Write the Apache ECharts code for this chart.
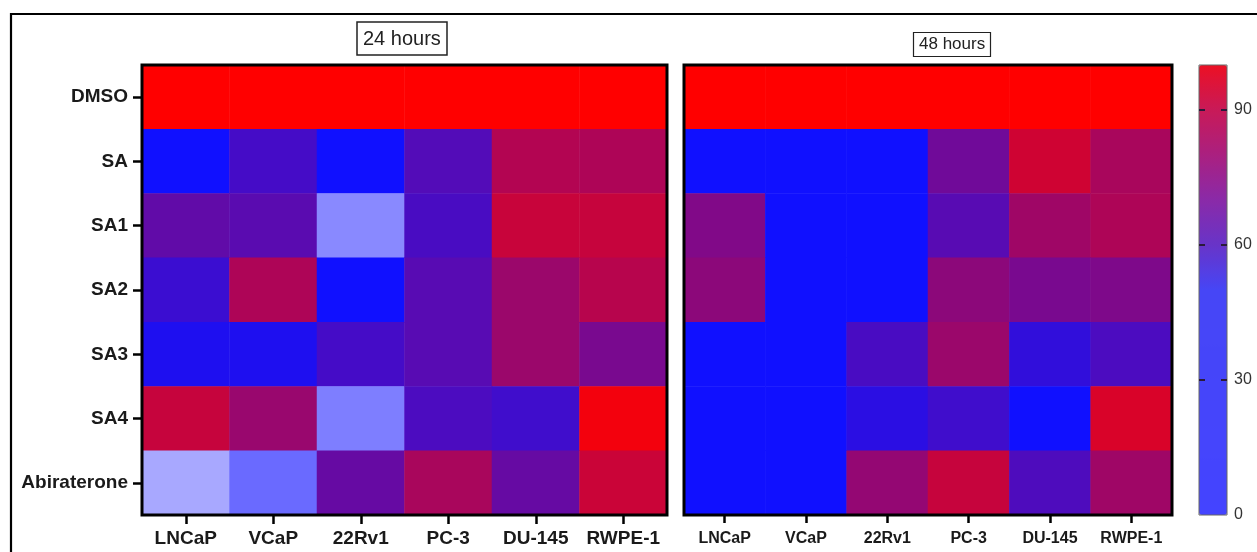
<!DOCTYPE html>
<html>
<head>
<meta charset="utf-8">
<script src="https://cdn.jsdelivr.net/npm/echarts@6/dist/echarts.min.js"></script>
<style>
html,body{margin:0;padding:0;background:#fff;}
#chart{width:1257px;height:552px;}
</style>
</head>
<body>
<div id="chart"></div>
<script>
// ---- data ----
const treatments = ['DMSO', 'SA', 'SA1', 'SA2', 'SA3', 'SA4', 'Abiraterone'];
const cellLines = ['LNCaP', 'VCaP', '22Rv1', 'PC-3', 'DU-145', 'RWPE-1'];
const values24h = [
  [100, 100, 100, 100, 100, 100],
  [42, 61, 40, 64, 84, 83],
  [67, 65.5, 17, 62, 88.5, 88],
  [59, 83, 42, 65, 79, 85],
  [53, 53, 61, 65, 79, 72],
  [88, 78.5, 19.5, 62.5, 60, 97.5],
  [10, 23, 68, 82, 68, 89]
];
const values48h = [
  [100, 100, 100, 100, 100, 100],
  [42, 42, 42, 70, 90, 82],
  [73.5, 42, 42, 65, 80, 83],
  [76, 42, 42, 76, 72, 73],
  [42, 42, 62, 79, 57, 62.5],
  [42, 42, 55.5, 60, 46, 92],
  [42, 42, 77.5, 88, 63, 80]
];
const panelTitles = ['24 hours', '48 hours'];
const colorbarTicks = [0, 30, 60, 90];
const colorbarInnerTicks = [30, 60, 90];

// ---- colour scales ----
function hex2rgb(h){return [parseInt(h.substr(1,2),16),parseInt(h.substr(3,2),16),parseInt(h.substr(5,2),16)];}
function rgb2hex(c){return '#'+c.map(v=>Math.round(v).toString(16).padStart(2,'0')).join('');}
function buildScale(stops){
  const out=[];
  for(let v=0; v<=100; v++){
    let i=0; while(i<stops.length-2 && v>stops[i+1][0]) i++;
    const a=stops[i], b=stops[i+1];
    const t=Math.max(0,Math.min(1,(v-a[0])/(b[0]-a[0])));
    const ca=hex2rgb(a[1]), cb=hex2rgb(b[1]);
    out.push(rgb2hex(ca.map((x,k)=>x+(cb[k]-x)*t)));
  }
  return out;
}
const cellColors = buildScale([[0,'#c8c8ff'],[10,'#a8a8ff'],[20,'#7c7cff'],[30,'#4040ff'],[38,'#1010ff'],[50,'#1010ff'],[100,'#ff0000']]);
const barColors = buildScale([[0,'#4444ff'],[50,'#4646f6'],[60,'#6834c8'],[70,'#8a2aa8'],[80,'#aa2080'],[90,'#c81a58'],[100,'#ec1024']]);

function toCells(m){
  const d=[];
  m.forEach((row,r)=>row.forEach((v,c)=>d.push([c,r,v])));
  return d;
}

const FONT='Liberation Sans';
const chart = echarts.init(document.getElementById('chart'), null, {renderer:'canvas'});

const gridDefs = [
  {left:142, top:65, width:525, height:450},
  {left:684, top:65, width:488, height:450},
  {left:1199, top:65, width:28, height:450}
];

chart.setOption({
  backgroundColor:'#ffffff',
  animation:false,
  title:[
    {text:panelTitles[0], left:357, top:22, padding:[7,6,6,6], borderColor:'#222', borderWidth:1.5,
     textStyle:{fontFamily:FONT, fontSize:20, fontWeight:'normal', color:'#222'}},
    {text:panelTitles[1], left:913, top:32, padding:[4,6,4,6], borderColor:'#222', borderWidth:1.2,
     textStyle:{fontFamily:FONT, fontSize:17, fontWeight:'normal', color:'#222'}}
  ],
  grid:[
    Object.assign({show:true, borderColor:'#000', borderWidth:3, backgroundColor:'transparent', z:10}, gridDefs[0]),
    Object.assign({show:true, borderColor:'#000', borderWidth:3, backgroundColor:'transparent', z:10}, gridDefs[1]),
    Object.assign({show:true, borderColor:'#666', borderWidth:1, backgroundColor:'transparent', z:10}, gridDefs[2])
  ],
  xAxis:[
    {type:'category', gridIndex:0, data:cellLines, position:'bottom',
     axisLine:{show:false}, splitLine:{show:false},
     axisTick:{show:true, alignWithLabel:true, interval:0, length:9, lineStyle:{color:'#000', width:2.5}},
     axisLabel:{interval:0, fontFamily:FONT, fontSize:19, fontWeight:'bold', color:'#1a1a1a', margin:14}},
    {type:'category', gridIndex:1, data:cellLines, position:'bottom',
     axisLine:{show:false}, splitLine:{show:false},
     axisTick:{show:true, alignWithLabel:true, interval:0, length:8, lineStyle:{color:'#000', width:2.5}},
     axisLabel:{interval:0, fontFamily:FONT, fontSize:16, fontWeight:'bold', color:'#1a1a1a', margin:16}},
    {type:'category', gridIndex:2, data:[''], show:false}
  ],
  yAxis:[
    {type:'category', gridIndex:0, data:treatments, inverse:true,
     axisLine:{show:false}, splitLine:{show:false},
     axisTick:{show:true, alignWithLabel:true, interval:0, length:9, lineStyle:{color:'#000', width:2.5}},
     axisLabel:{interval:0, fontFamily:FONT, fontSize:19, fontWeight:'bold', color:'#1a1a1a', margin:14}},
    {type:'category', gridIndex:1, data:treatments, inverse:true,
     axisLine:{show:false}, axisTick:{show:false}, axisLabel:{show:false}, splitLine:{show:false}},
    {type:'value', gridIndex:2, position:'right', min:0, max:100, interval:30, z:12,
     axisLine:{show:false}, splitLine:{show:false},
     axisTick:{show:true, inside:true, length:6, customValues:colorbarInnerTicks, lineStyle:{color:'#2a1a3a', width:2}},
     axisLabel:{fontFamily:FONT, fontSize:16, color:'#333', margin:7, customValues:colorbarTicks}},
    {type:'value', gridIndex:2, position:'left', min:0, max:100, interval:30, z:12,
     axisLine:{show:false}, splitLine:{show:false},
     axisTick:{show:true, inside:true, length:6, customValues:colorbarInnerTicks, lineStyle:{color:'#2a1a3a', width:2}},
     axisLabel:{show:false}}
  ],
  visualMap:[
    {type:'continuous', show:false, seriesIndex:[0,1], min:0, max:100, inRange:{color:cellColors}},
    {type:'continuous', show:true, seriesIndex:[2], min:0, max:100, calculable:false, orient:'vertical',
     left:gridDefs[2].left, top:gridDefs[2].top, itemWidth:28, itemHeight:450, padding:0, text:null, z:2,
     inRange:{color:barColors}}
  ],
  series:[
    {type:'heatmap', xAxisIndex:0, yAxisIndex:0, data:toCells(values24h), itemStyle:{borderWidth:0}, emphasis:{disabled:true}},
    {type:'heatmap', xAxisIndex:1, yAxisIndex:1, data:toCells(values48h), itemStyle:{borderWidth:0}, emphasis:{disabled:true}},
    {type:'heatmap', xAxisIndex:2, yAxisIndex:2, data:[]}
  ],
  graphic:[
    {type:'rect', silent:true, z:0, shape:{x:11, y:14, width:1400, height:700},
     style:{fill:null, stroke:'#000', lineWidth:2.2}}
  ]
});
</script>
</body>
</html>
